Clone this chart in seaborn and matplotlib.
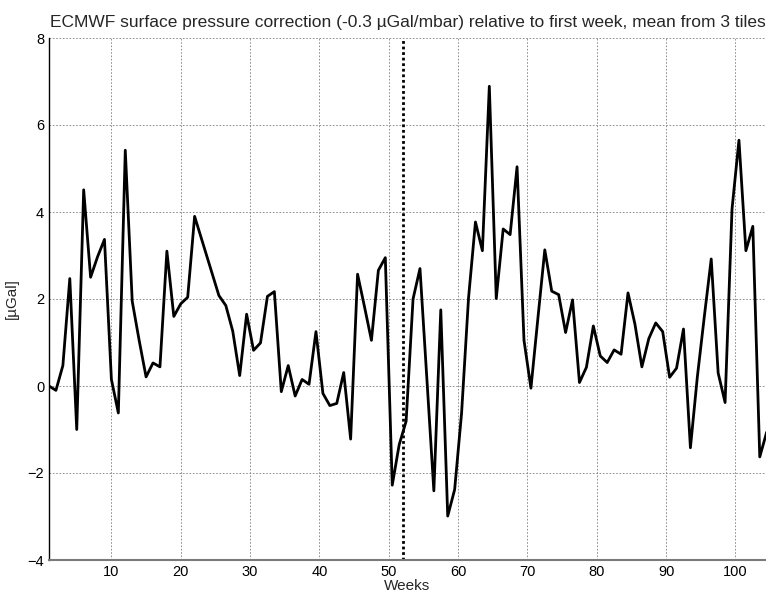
import numpy as np
import pandas as pd
import matplotlib
matplotlib.use("Agg")
import matplotlib.pyplot as plt
import seaborn as sns

weeks_a = list(range(1, 23))
values_a = [0.0, -0.10, 0.47, 2.47, -1.00, 4.51, 2.50, 2.97, 3.37, 0.15, -0.62,
            5.42, 1.95, 1.05, 0.21, 0.53, 0.44, 3.10, 1.60, 1.89, 2.04, 3.90]
weeks_b = [w + 0.5 for w in range(25, 105)]
values_b = [2.08, 1.85, 1.26, 0.24, 1.65, 0.82, 0.99, 2.06, 2.17, -0.13,
            0.47, -0.23, 0.15, 0.04, 1.25, -0.17, -0.45, -0.40, 0.31, -1.22,
            2.57, 1.82, 1.05, 2.66, 2.95, -2.28, -1.35, -0.81, 2.00, 2.70,
            0.15, -2.41, 1.75, -2.99, -2.38, -0.62, 2.02, 3.77, 3.11, 6.89,
            2.01, 3.61, 3.48, 5.04, 1.05, -0.05, 1.55, 3.13, 2.18, 2.10,
            1.23, 1.98, 0.08, 0.43, 1.38, 0.69, 0.54, 0.83, 0.73, 2.14,
            1.42, 0.44, 1.09, 1.45, 1.25, 0.20, 0.41, 1.31, -1.42, 0.21,
            1.59, 2.92, 0.30, -0.38, 4.07, 5.65, 3.11, 3.67, -1.63, -1.06]
marker_week = 52
x_ticks = [10, 20, 30, 40, 50, 60, 70, 80, 90, 100]
y_ticks = [-4, -2, 0, 2, 4, 6, 8]

title = "ECMWF surface pressure correction (-0.3 \u00b5Gal/mbar) relative to first week, mean from 3 tiles"

df = pd.DataFrame({"week": weeks_a + weeks_b, "value": values_a + values_b})

sns.set_style("white")
plt.rcParams["font.family"] = ["Liberation Sans", "DejaVu Sans"]

fig = plt.figure(figsize=(7.66, 5.96), dpi=100)
ax = fig.add_axes([49 / 766, 36 / 596, 1 - 49 / 766, (560 - 38) / 596])

sns.lineplot(data=df, x="week", y="value", ax=ax, color="black", linewidth=2.0,
             estimator=None, sort=False)
ax.axvline(marker_week, color="black", linestyle=(0, (1, 1)), linewidth=2.0)

ax.set_xlim(1, 104.4)
ax.set_ylim(-4, 8)
ax.set_xticks(x_ticks)
ax.set_yticks(y_ticks)
ax.grid(True, color="#808080", linestyle=(0, (2, 2)), linewidth=0.6)
ax.tick_params(direction="in", length=4, labelsize=10.5, colors="black")
ax.set_xlabel("Weeks", fontsize=11, labelpad=0)
ax.set_ylabel("[\u00b5Gal]", fontsize=11, labelpad=6)
ax.set_title(title, fontsize=12.5, pad=8)

for s in ["top", "right"]:
    ax.spines[s].set_visible(False)
ax.spines["left"].set_color("black")
ax.spines["left"].set_linewidth(1.0)
ax.spines["bottom"].set_color("#7a7a7a")
ax.spines["bottom"].set_linewidth(1.5)

fig.savefig("out.png", dpi=100)
